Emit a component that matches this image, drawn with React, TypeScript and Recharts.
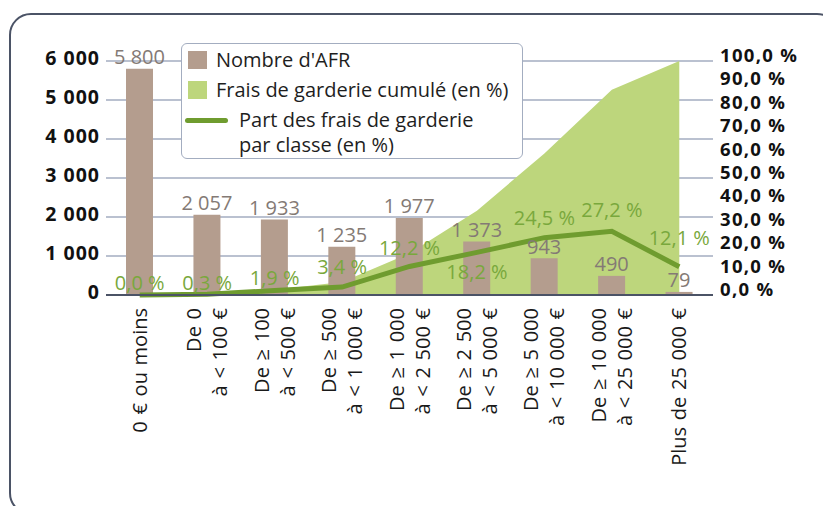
import React from 'react';
import {
  ComposedChart,
  Bar,
  Line,
  Area,
  XAxis,
  YAxis,
  CartesianGrid,
  LabelList,
  Legend,
} from 'recharts';

const categories = [
  '0 € ou moins',
  'De 0\nà < 100 €',
  'De ≥ 100\nà < 500 €',
  'De ≥ 500\nà < 1 000 €',
  'De ≥ 1 000\nà < 2 500 €',
  'De ≥ 2 500\nà < 5 000 €',
  'De ≥ 5 000\nà < 10 000 €',
  'De ≥ 10 000\nà < 25 000 €',
  'Plus de 25 000 €',
];
const nombreAFR = [5800, 2057, 1933, 1235, 1977, 1373, 943, 490, 79];
const fraisCumule = [0, 0.3, 2.2, 5.6, 17.8, 36.0, 60.5, 87.7, 100];
const partFrais = [0.0, 0.3, 1.9, 3.4, 12.2, 18.2, 24.5, 27.2, 12.1];
const leftTicks = [0, 1000, 2000, 3000, 4000, 5000, 6000];
const rightTicks = [0, 10, 20, 30, 40, 50, 60, 70, 80, 90, 100];

const legendLabels = ["Nombre d'AFR", 'Frais de garderie cumulé (en %)', 'Part des frais de garderie', 'par classe (en %)'];

const data = categories.map((c, i) => ({
  cat: c,
  afr: nombreAFR[i],
  cum: fraisCumule[i],
  part: partFrais[i],
}));

// styling
const FONT = '"Open Sans", sans-serif';
const BAR_COLOR = '#b49d8e';
const AREA_COLOR = '#bdd67c';
const LINE_COLOR = '#6f9c2f';
const LINE_LABEL_COLOR = '#79a83c';
const BAR_LABEL_COLOR = '#847a75';
const GRID_COLOR = '#a3adc0';
const AXIS_COLOR = '#4b5366';
const lineLabelOffsets = [-12, -11, -12.5, -20, -18.5, 19.5, -19.5, -21, -28.5];

const fmtInt = (v: number) =>
  v >= 1000 ? `${Math.floor(v / 1000)} ${String(v % 1000).padStart(3, '0')}` : String(v);
const fmtPct = (v: number) => `${v.toFixed(1).replace('.', ',')} %`;

const XTick = (props: any) => {
  const { x, y, payload } = props;
  const lines = String(payload.value).split('\n');
  const n = lines.length;
  return (
    <g transform={`translate(${x},${y})`}>
      <text
        transform="rotate(-90)"
        textAnchor="end"
        fontSize={20}
        fill="#1a1a1a"
        fontFamily={FONT}
        style={{ wordSpacing: 1.5 }}
      >
        {lines.map((l, i) => {
          const off = n === 1 ? 0 : i === 0 ? -13 : 13;
          return (
            <tspan key={i} x={0} y={off} dy="0.35em">
              {l}
            </tspan>
          );
        })}
      </text>
    </g>
  );
};

const LeftTick = (props: any) => {
  const { x, y, payload } = props;
  return (
    <text
      x={x}
      y={y - 3}
      dy="0.35em"
      textAnchor="end"
      fontSize={19.5}
      fontWeight={700}
      fill="#111"
      fontFamily={FONT}
      style={{ letterSpacing: 1 }}
    >
      {fmtInt(payload.value)}
    </text>
  );
};

const RightTick = (props: any) => {
  const { x, y, payload } = props;
  return (
    <text
      x={x}
      y={y - 5.5}
      dy="0.35em"
      textAnchor="start"
      fontSize={18.5}
      fontWeight={700}
      fill="#111"
      fontFamily={FONT}
      style={{ letterSpacing: 1.3 }}
    >
      {fmtPct(payload.value)}
    </text>
  );
};

const LineLabel = (props: any) => {
  const { x, y, value, index } = props;
  const off = lineLabelOffsets[index] ?? -15;
  return (
    <text
      x={x}
      y={y + off}
      dy="0.35em"
      textAnchor="middle"
      fontSize={20}
      fill={LINE_LABEL_COLOR}
      fontFamily={FONT}
    >
      {fmtPct(Number(value))}
    </text>
  );
};

const BarLabel = (props: any) => {
  const { x, y, width, value } = props;
  return (
    <text
      x={x + width / 2}
      y={y - 11.5}
      dy="0.35em"
      textAnchor="middle"
      fontSize={20}
      fill={BAR_LABEL_COLOR}
      fontFamily={FONT}
    >
      {fmtInt(Number(value))}
    </text>
  );
};

const LegendBox = () => {
  const text: React.CSSProperties = {
    position: 'absolute',
    fontFamily: FONT,
    fontSize: 20,
    color: '#1e1e1e',
    lineHeight: '24px',
    whiteSpace: 'nowrap',
  };
  return (
    <div
      style={{
        position: 'relative',
        width: 342,
        height: 116,
        boxSizing: 'border-box',
        border: `1.5px solid ${GRID_COLOR}`,
        borderRadius: 6,
        background: '#fff',
      }}
    >
      <div style={{ position: 'absolute', left: 6, top: 7, width: 19, height: 18, background: BAR_COLOR }} />
      <div style={{ ...text, left: 34, top: 4 }}>{legendLabels[0]}</div>
      <div style={{ position: 'absolute', left: 6, top: 37, width: 19, height: 18, background: AREA_COLOR }} />
      <div style={{ ...text, left: 34, top: 34 }}>{legendLabels[1]}</div>
      <div
        style={{
          position: 'absolute',
          left: 3,
          top: 74,
          width: 43,
          height: 5,
          borderRadius: 3,
          background: LINE_COLOR,
        }}
      />
      <div style={{ ...text, left: 57, top: 64 }}>{legendLabels[2]}</div>
      <div style={{ ...text, left: 57, top: 89 }}>{legendLabels[3]}</div>
    </div>
  );
};

export default function App() {
  return (
    <div
      style={{
        position: 'absolute',
        left: 0,
        top: 0,
        width: 823,
        height: 506,
        overflow: 'hidden',
        background: '#fff',
      }}
    >
      <div
        style={{
          position: 'absolute',
          left: 9,
          top: 13,
          width: 830,
          height: 502,
          boxSizing: 'border-box',
          border: `2.5px solid ${AXIS_COLOR}`,
          borderRadius: 22,
        }}
      />
      <div style={{ position: 'absolute', left: 0, top: 0 }}>
        <ComposedChart
          width={823}
          height={506}
          data={data}
          margin={{ top: 61, right: 0, bottom: 0, left: 0 }}
          style={{ fontFamily: FONT }}
        >
          <CartesianGrid
            yAxisId="left"
            vertical={false}
            stroke={GRID_COLOR}
            strokeWidth={1.5}
          />
          <XAxis
            dataKey="cat"
            interval={0}
            height={211}
            tickSize={0}
            tickMargin={13}
            tickLine={false}
            axisLine={{ stroke: AXIS_COLOR, strokeWidth: 2 }}
            tick={<XTick />}
          />
          <YAxis
            yAxisId="left"
            orientation="left"
            width={106}
            domain={[0, 6000]}
            ticks={leftTicks}
            tickSize={0}
            tickMargin={6}
            axisLine={false}
            tickLine={false}
            tick={<LeftTick />}
          />
          <YAxis
            yAxisId="right"
            orientation="right"
            width={110}
            domain={[0, 100]}
            ticks={rightTicks}
            tickSize={0}
            tickMargin={7}
            axisLine={false}
            tickLine={false}
            tick={<RightTick />}
          />
          <Area
            yAxisId="right"
            dataKey="cum"
            type="linear"
            fill={AREA_COLOR}
            fillOpacity={1}
            stroke="none"
            isAnimationActive={false}
          />
          <Bar yAxisId="left" dataKey="afr" fill={BAR_COLOR} barSize={27} isAnimationActive={false}>
            <LabelList dataKey="afr" content={<BarLabel />} />
          </Bar>
          <Line
            yAxisId="right"
            dataKey="part"
            type="linear"
            stroke={LINE_COLOR}
            strokeWidth={5}
            dot={false}
            activeDot={false}
            isAnimationActive={false}
          >
            <LabelList dataKey="part" content={<LineLabel />} />
          </Line>
          <Legend
            layout="horizontal"
            verticalAlign="middle"
            align="center"
            wrapperStyle={{ left: 181, top: 43, width: 342, height: 116 }}
            content={<LegendBox />}
          />
        </ComposedChart>
      </div>
    </div>
  );
}
